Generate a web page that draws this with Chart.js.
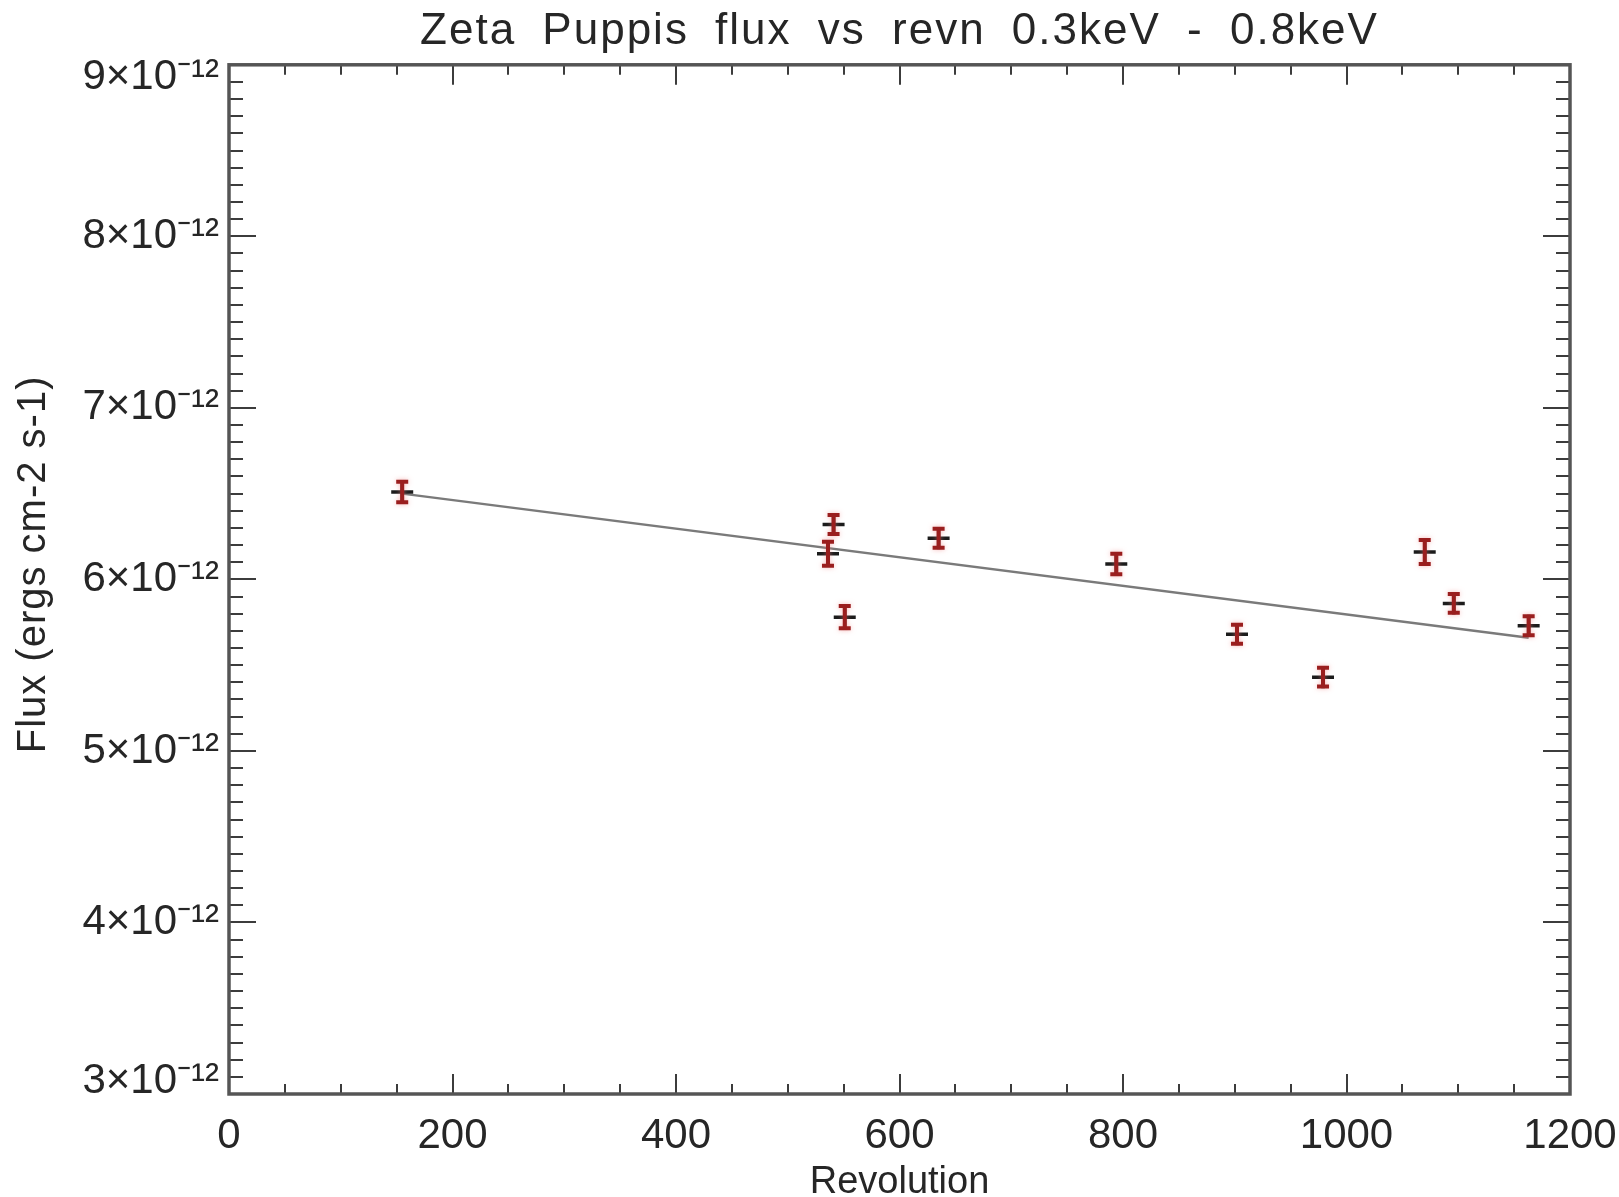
<!DOCTYPE html>
<html>
<head>
<meta charset="utf-8">
<title>Zeta Puppis flux vs revn 0.3keV - 0.8keV</title>
<script src="https://cdn.jsdelivr.net/npm/chart.js@4.4.1/dist/chart.umd.min.js"></script>
<style>
  html, body { margin: 0; padding: 0; background: #ffffff; }
  canvas { display: block; }
</style>
</head>
<body>
<canvas id="chart" width="1619" height="1197"></canvas>
<script>
// Observations: revolution number, measured flux and its 1-sigma error
const revolution = [155, 536, 541, 551, 635, 794, 902, 979, 1070, 1096, 1163];
const flux = [6.51e-12, 6.15e-12, 6.32e-12, 5.78e-12, 6.24e-12, 6.09e-12, 5.68e-12, 5.43e-12, 6.16e-12, 5.86e-12, 5.73e-12];
const fluxErr = [0.06e-12, 0.07e-12, 0.055e-12, 0.065e-12, 0.055e-12, 0.06e-12, 0.055e-12, 0.055e-12, 0.07e-12, 0.055e-12, 0.055e-12];

// Linear trend through the observations
const fitRevolution = [155, 1163];
const fitFlux = [6.50e-12, 5.66e-12];

// Axis ticks
const xTickValues = [0, 200, 400, 600, 800, 1000, 1200];
const xTickLabels = ['0', '200', '400', '600', '800', '1000', '1200'];
const yTickValues = [3e-12, 4e-12, 5e-12, 6e-12, 7e-12, 8e-12, 9e-12];
const yTickLabels = ['3×10⁻¹²', '4×10⁻¹²', '5×10⁻¹²', '6×10⁻¹²', '7×10⁻¹²', '8×10⁻¹²', '9×10⁻¹²'];
const xMinorStep = 50;
const yMinorStep = 0.1e-12;

const FONT = "'Liberation Sans', Arial, Helvetica, sans-serif";
const TEXT = '#262626';

// Wraps a draw method so its text gets extra letter/word spacing and an offset
function spaced(obj, method, letter, word, dx, dy) {
  const orig = obj[method];
  obj[method] = function (...args) {
    const ctx = this.ctx;
    ctx.save();
    ctx.letterSpacing = letter;
    ctx.wordSpacing = word;
    ctx.translate(dx, dy);
    orig.apply(this, args);
    ctx.restore();
  };
}

const textSpacing = {
  id: 'textSpacing',
  afterLayout(chart) {
    if (chart.$spaced) return;
    chart.$spaced = true;
    spaced(chart.titleBlock, 'draw', '2px', '12px', 0, 0);
    spaced(chart.scales.y, 'drawTitle', '1px', '0px', 0, -15);
  }
};

// Plot frame with inward major/minor tick marks on all four sides
const frameTicks = {
  id: 'frameTicks',
  afterDraw(chart) {
    const { ctx, chartArea: a, scales: { x, y } } = chart;
    ctx.save();
    ctx.strokeStyle = '#3c3c3c';
    ctx.lineWidth = 2;
    ctx.beginPath();
    const nx = Math.round((x.max - x.min) / xMinorStep);
    for (let k = 0; k <= nx; k++) {
      const v = x.min + k * xMinorStep;
      const px = Math.round(x.getPixelForValue(v));
      const len = (k % 4 === 0) ? 20 : 10;
      ctx.moveTo(px, a.bottom); ctx.lineTo(px, a.bottom - len);
      ctx.moveTo(px, a.top); ctx.lineTo(px, a.top + len);
    }
    const ny = Math.round((y.max - y.min) / yMinorStep);
    for (let k = 0; k <= ny; k++) {
      const v = y.min + k * yMinorStep;
      const py = Math.round(y.getPixelForValue(v));
      const len = (k % 10 === 0) ? 27 : 14;
      ctx.moveTo(a.left, py); ctx.lineTo(a.left + len, py);
      ctx.moveTo(a.right, py); ctx.lineTo(a.right - len, py);
    }
    ctx.stroke();
    ctx.strokeStyle = '#555555';
    ctx.lineWidth = 3.5;
    ctx.strokeRect(a.left, a.top, a.right - a.left, a.bottom - a.top);
    ctx.restore();
  }
};

// Vertical error bars with short caps
const errorBars = {
  id: 'errorBars',
  afterDatasetsDraw(chart) {
    const { ctx, scales: { x, y } } = chart;
    ctx.save();
    ctx.strokeStyle = '#9a1e1e';
    ctx.lineWidth = 4;
    ctx.shadowColor = 'rgba(240, 130, 130, 0.55)';
    ctx.shadowBlur = 5;
    revolution.forEach((r, i) => {
      const px = x.getPixelForValue(r);
      const yTop = y.getPixelForValue(flux[i] + fluxErr[i]);
      const yBot = y.getPixelForValue(flux[i] - fluxErr[i]);
      ctx.beginPath();
      ctx.moveTo(px, yTop); ctx.lineTo(px, yBot);
      ctx.moveTo(px - 6, yTop); ctx.lineTo(px + 6, yTop);
      ctx.moveTo(px - 6, yBot); ctx.lineTo(px + 6, yBot);
      ctx.stroke();
    });
    ctx.restore();
  }
};

const lastY = yTickValues.length - 1;

new Chart(document.getElementById('chart'), {
  type: 'scatter',
  data: {
    datasets: [
      {
        label: 'Flux',
        data: revolution.map((r, i) => ({ x: r, y: flux[i] })),
        pointStyle: 'cross',
        pointRadius: 11,
        pointBorderWidth: 3.5,
        borderColor: '#1c1c1c',
        backgroundColor: '#1c1c1c'
      },
      {
        label: 'Fit',
        data: fitRevolution.map((r, i) => ({ x: r, y: fitFlux[i] })),
        showLine: true,
        borderColor: '#7a7a7a',
        borderWidth: 2.5,
        pointRadius: 0
      }
    ]
  },
  options: {
    responsive: false,
    devicePixelRatio: 1,
    animation: false,
    layout: { padding: { left: 0, right: 49, top: 0, bottom: 0 } },
    plugins: {
      legend: { display: false },
      tooltip: { enabled: false },
      title: {
        display: true,
        fullSize: false,
        text: 'Zeta Puppis flux vs revn 0.3keV - 0.8keV',
        color: TEXT,
        font: { family: FONT, size: 44, weight: 'normal', lineHeight: 1.2 },
        padding: { top: 5, bottom: 7 }
      }
    },
    scales: {
      x: {
        type: 'linear',
        min: 0,
        max: 1200,
        grid: { display: false, drawTicks: false },
        border: { display: false },
        afterBuildTicks: (s) => { s.ticks = xTickValues.map(v => ({ value: v })); },
        afterFit: (s) => { s.height = 103; s.paddingLeft = 0; s.paddingRight = 0; },
        ticks: {
          autoSkip: false,
          maxRotation: 0,
          padding: 17,
          color: TEXT,
          font: { family: FONT, size: 42 },
          callback: (v, i) => xTickLabels[i]
        },
        title: {
          display: true,
          text: 'Revolution',
          color: TEXT,
          font: { family: FONT, size: 38, lineHeight: 0.75 },
          padding: { top: 0, bottom: 0 }
        }
      },
      y: {
        type: 'linear',
        min: 3e-12,
        max: 9e-12,
        grid: { display: false, drawTicks: false },
        border: { display: false },
        afterBuildTicks: (s) => { s.ticks = yTickValues.map(v => ({ value: v })); },
        afterFit: (s) => { s.width = 229; },
        ticks: {
          autoSkip: false,
          padding: 10,
          color: TEXT,
          font: (c) => ({
            family: FONT,
            size: 42,
            lineHeight: (c.index === 0 || c.index === lastY) ? '26px' : 1.2
          }),
          callback: (v, i) => {
            const t = yTickLabels[i];
            if (i === lastY) return ['', t];
            if (i === 0) return [t, ''];
            return t;
          }
        },
        title: {
          display: true,
          text: 'Flux (ergs cm-2 s-1)',
          color: TEXT,
          font: { family: FONT, size: 40, lineHeight: 1.2 },
          padding: { top: 10, bottom: 0 }
        }
      }
    }
  },
  plugins: [textSpacing, errorBars, frameTicks]
});
</script>
</body>
</html>
